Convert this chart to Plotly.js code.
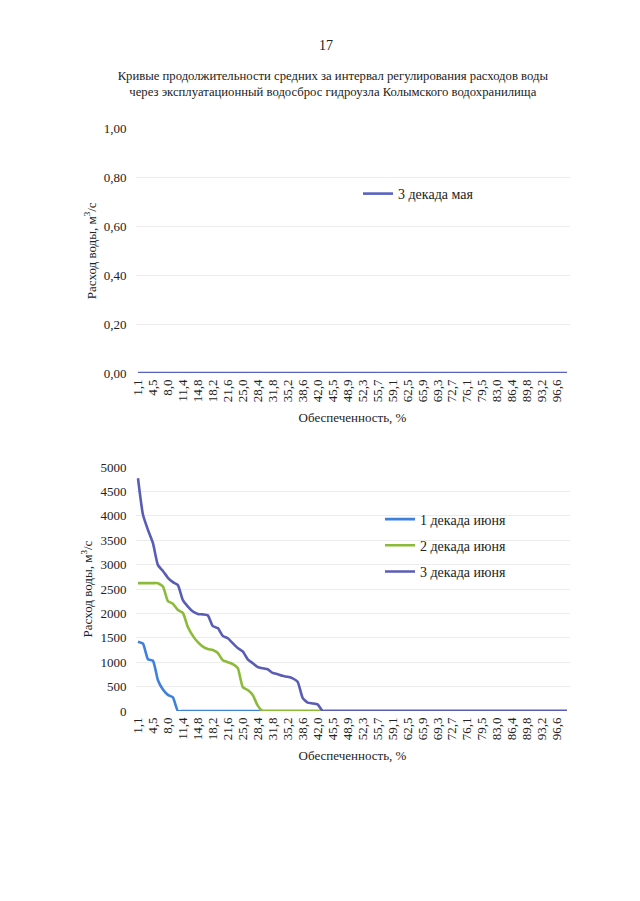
<!DOCTYPE html>
<html>
<head>
<meta charset="utf-8">
<script src="https://cdn.plot.ly/plotly-3.0.1.min.js"></script>
<style>
html,body{margin:0;padding:0;background:#fff;}
#chart{width:640px;height:901px;}
</style>
</head>
<body>
<div id="chart"></div>
<script>
const categories = ["1,1","2,3","3,4","4,5","5,7","6,8","8,0","9,1","10,2","11,4","12,5","13,6","14,8","15,9","17,0","18,2","19,3","20,5","21,6","22,7","23,9","25,0","26,1","27,3","28,4","29,5","30,7","31,8","33,0","34,1","35,2","36,4","37,5","38,6","39,8","40,9","42,0","43,2","44,3","45,5","46,6","47,7","48,9","50,0","51,1","52,3","53,4","54,5","55,7","56,8","58,0","59,1","60,2","61,4","62,5","63,6","64,8","65,9","67,0","68,2","69,3","70,5","71,6","72,7","73,9","75,0","76,1","77,3","78,4","79,5","80,7","81,8","83,0","84,1","85,2","86,4","87,5","88,6","89,8","90,9","92,0","93,2","94,3","95,5","96,6","97,7","98,9"];

const may3 = [0,0,0,0,0,0,0,0,0,0, 0,0,0,0,0,0,0,0,0,0, 0,0,0,0,0,0,0,0,0,0, 0,0,0,0,0,0,0,0,0,0, 0,0,0,0,0,0,0,0,0,0, 0,0,0,0,0,0,0,0,0,0, 0,0,0,0,0,0,0,0,0,0, 0,0,0,0,0,0,0,0,0,0, 0,0,0,0,0,0,0];

const june1 = [1420,1380,1060,1030,630,440,330,280,0,0, 0,0,0,0,0,0,0,0,0,0, 0,0,0,0,0,0,0,0,0,0, 0,0,0,0,0,0,0,0,0,0, 0,0,0,0,0,0,0,0,0,0, 0,0,0,0,0,0,0,0,0,0, 0,0,0,0,0,0,0,0,0,0, 0,0,0,0,0,0,0,0,0,0, 0,0,0,0,0,0,0];

const june2 = [2620,2620,2620,2620,2620,2550,2250,2200,2070,2010, 1720,1540,1410,1320,1270,1250,1190,1040,1000,960, 880,490,430,330,110,0,0,0,0,0, 0,0,0,0,0,0,0,0,0,0, 0,0,0,0,0,0,0,0,0,0, 0,0,0,0,0,0,0,0,0,0, 0,0,0,0,0,0,0,0,0,0, 0,0,0,0,0,0,0,0,0,0, 0,0,0,0,0,0,0];

const june3 = [4770,4020,3710,3440,2990,2870,2730,2640,2580,2270, 2140,2040,1990,1980,1960,1740,1700,1540,1490,1390, 1290,1220,1060,980,900,875,855,780,755,720, 700,670,600,270,170,155,135,0,0,0, 0,0,0,0,0,0,0,0,0,0, 0,0,0,0,0,0,0,0,0,0, 0,0,0,0,0,0,0,0,0,0, 0,0,0,0,0,0,0,0,0,0, 0,0,0,0,0,0,0];

const pageNumber = "17";
const chartTitle = "Кривые продолжительности средних за интервал регулирования расходов воды<br>через эксплуатационный водосброс гидроузла Колымского водохранилища";
const yTitle = "Расход воды, м<sup>3</sup>/с";
const xTitle = "Обеспеченность, %";

const tickCats = categories.filter((c, i) => i % 3 === 0);

const FONT = "Liberation Serif";
const TXT = "#222";

const lineShape = {shape: "spline", smoothing: 0.5, width: 2.6};

const traces = [
  {x: categories, y: may3, type: "scatter", mode: "lines", name: "3 декада мая",
   xaxis: "x", yaxis: "y", legend: "legend",
   line: Object.assign({color: "#5862c0"}, lineShape)},
  {x: categories, y: june1, type: "scatter", mode: "lines", name: "1 декада июня",
   xaxis: "x2", yaxis: "y2", legend: "legend2", legendgroup: "a",
   line: Object.assign({color: "#3f80da"}, lineShape)},
  {x: categories, y: june2, type: "scatter", mode: "lines", name: "2 декада июня",
   xaxis: "x2", yaxis: "y2", legend: "legend2", legendgroup: "b",
   line: Object.assign({color: "#8cbb3a"}, lineShape)},
  {x: categories, y: june3, type: "scatter", mode: "lines", name: "3 декада июня",
   xaxis: "x2", yaxis: "y2", legend: "legend2", legendgroup: "c",
   line: Object.assign({color: "#5a5db5"}, lineShape)}
];

const xCommon = {
  type: "category",
  categoryorder: "array",
  categoryarray: categories,
  range: [-0.5, categories.length - 0.5],
  tickmode: "array",
  tickvals: tickCats,
  ticktext: tickCats,
  tickangle: -90,
  tickfont: {family: FONT, size: 13, color: TXT},
  showgrid: false,
  showline: false,
  zeroline: false,
  ticks: "",
  ticklabelstandoff: 3,
  fixedrange: true
};

const yCommon = {
  showgrid: true,
  gridcolor: "#ececec",
  gridwidth: 1,
  zeroline: false,
  showline: false,
  ticks: "",
  tickfont: {family: FONT, size: 13, color: TXT},
  ticklabelstandoff: 8,
  fixedrange: true
};

const layout = {
  width: 640,
  height: 901,
  margin: {l: 0, r: 0, t: 0, b: 0},
  paper_bgcolor: "#ffffff",
  plot_bgcolor: "#ffffff",
  separators: ", ",
  font: {family: FONT, color: TXT, size: 13},
  title: {
    text: chartTitle,
    font: {family: FONT, size: 12.7, color: TXT},
    x: 0.52, xanchor: "center",
    y: 1 - 79.5 / 901, yanchor: "middle",
    xref: "paper", yref: "paper"
  },
  xaxis: Object.assign({}, xCommon, {
    domain: [135.5 / 640, 569.5 / 640], anchor: "y",
    title: {text: xTitle, font: {family: FONT, size: 13, color: TXT}, standoff: 11}
  }),
  yaxis: Object.assign({}, yCommon, {
    domain: [1 - 373 / 901, 1 - 128.5 / 901], anchor: "x",
    range: [0, 1], dtick: 0.2, tickformat: ".2f",
    title: {text: yTitle, font: {family: FONT, size: 13, color: TXT}, standoff: 4}
  }),
  xaxis2: Object.assign({}, xCommon, {
    domain: [135.5 / 640, 569.5 / 640], anchor: "y2",
    title: {text: xTitle, font: {family: FONT, size: 13, color: TXT}, standoff: 11}
  }),
  yaxis2: Object.assign({}, yCommon, {
    domain: [1 - 711 / 901, 1 - 467 / 901], anchor: "x2",
    range: [0, 5000], dtick: 500, tickformat: "d",
    title: {text: yTitle, font: {family: FONT, size: 13, color: TXT}, standoff: 4}
  }),
  showlegend: true,
  legend: {
    x: 358 / 640, xanchor: "left", y: 1 - 194 / 901, yanchor: "middle",
    font: {family: FONT, size: 14, color: TXT},
    bgcolor: "rgba(0,0,0,0)", borderwidth: 0
  },
  legend2: {
    x: 380 / 640, xanchor: "left", y: 1 - 545.5 / 901, yanchor: "middle",
    font: {family: FONT, size: 14, color: TXT},
    bgcolor: "rgba(0,0,0,0)", borderwidth: 0,
    traceorder: "grouped", tracegroupgap: 5
  },
  annotations: [
    {text: pageNumber, xref: "paper", yref: "paper", x: 326 / 640, y: 1 - 45 / 901,
     xanchor: "center", yanchor: "middle", showarrow: false,
     font: {family: FONT, size: 14, color: TXT}}
  ]
};

Plotly.newPlot("chart", traces, layout, {staticPlot: true, displayModeBar: false});
</script>
</body>
</html>
